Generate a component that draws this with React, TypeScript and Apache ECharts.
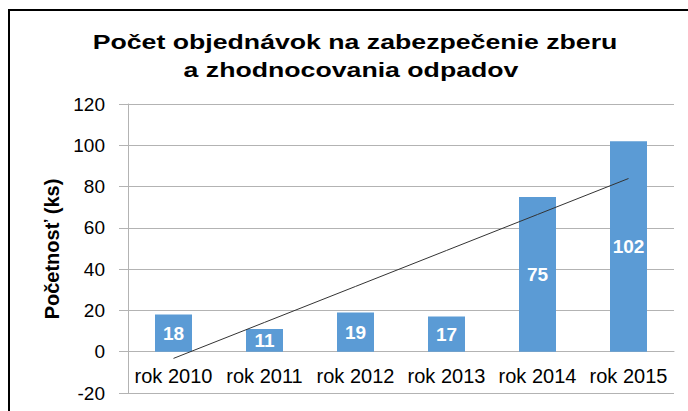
import React, { useEffect, useRef } from "react";
import * as echarts from "echarts";

const categories = ["rok 2010", "rok 2011", "rok 2012", "rok 2013", "rok 2014", "rok 2015"];
const values = [18, 11, 19, 17, 75, 102];
const titleLines = ["Počet objednávok na zabezpečenie zberu", "a zhodnocovania odpadov"];
const yAxisTitle = "Početnosť (ks)";
const yMin = -20;
const yMax = 120;
const yStep = 20;

function linearTrend(ys: number[]): number[] {
  const n = ys.length;
  const xs = ys.map((_, i) => i + 1);
  const mx = xs.reduce((a, b) => a + b, 0) / n;
  const my = ys.reduce((a, b) => a + b, 0) / n;
  let sxy = 0;
  let sxx = 0;
  for (let i = 0; i < n; i++) {
    sxy += (xs[i] - mx) * (ys[i] - my);
    sxx += (xs[i] - mx) * (xs[i] - mx);
  }
  const slope = sxy / sxx;
  return xs.map((x) => my + slope * (x - mx));
}

export default function App() {
  const ref = useRef<HTMLDivElement>(null);
  useEffect(() => {
    if (!ref.current) return;
    const chart = echarts.init(ref.current, undefined, { renderer: "svg" });
    const font = "'Liberation Sans', Arial, sans-serif";
    const gridTop = 104;
    const gridBottom = 18;
    const plotH = 411 - gridTop - gridBottom;
    const zeroOffset = (plotH * (0 - yMin)) / (yMax - yMin);
    chart.setOption({
      animation: false,
      backgroundColor: "#ffffff",
      textStyle: { fontFamily: font },
      grid: {
        left: 128,
        right: 14,
        top: gridTop,
        bottom: gridBottom,
        containLabel: false,
        outerBoundsMode: "none",
      },
      xAxis: {
        type: "category",
        data: categories,
        offset: -zeroOffset,
        axisLine: { show: true, onZero: false, lineStyle: { color: "#b3b3b3", width: 1 } },
        axisTick: { show: false },
        axisLabel: { color: "#000", fontSize: 20, fontFamily: font, margin: 14, interval: 0 },
        splitLine: { show: false },
      },
      yAxis: {
        type: "value",
        min: yMin,
        max: yMax,
        interval: yStep,
        axisLine: { show: true, lineStyle: { color: "#b3b3b3", width: 1 } },
        axisTick: { show: true, length: 9, lineStyle: { color: "#b3b3b3" } },
        axisLabel: { color: "#000", fontSize: 19, fontFamily: font, margin: 23 },
        splitLine: { show: true, lineStyle: { color: "#b3b3b3", width: 1 } },
      },
      graphic: [
        {
          type: "rect",
          shape: { x: 9, y: 10, width: 700, height: 420 },
          style: { fill: "none", stroke: "#000", lineWidth: 2 },
          silent: true,
        },
        {
          type: "text",
          x: 355,
          y: 42,
          scaleX: 1.27,
          style: {
            text: titleLines[0],
            font: `bold 21px ${font}`,
            fill: "#000",
            textAlign: "center",
            textVerticalAlign: "middle",
          },
        },
        {
          type: "text",
          x: 351,
          y: 70,
          scaleX: 1.27,
          style: {
            text: titleLines[1],
            font: `bold 21px ${font}`,
            fill: "#000",
            textAlign: "center",
            textVerticalAlign: "middle",
          },
        },
        {
          type: "text",
          x: 52,
          y: 249,
          rotation: Math.PI / 2,
          style: {
            text: yAxisTitle,
            font: `bold 20px ${font}`,
            fill: "#000",
            textAlign: "center",
            textVerticalAlign: "middle",
          },
        },
      ],
      series: [
        {
          type: "bar",
          data: values,
          barWidth: 37,
          itemStyle: { color: "#5b9bd5" },
          label: {
            show: true,
            position: "inside",
            color: "#fff",
            fontWeight: "bold",
            fontSize: 19,
            fontFamily: font,
          },
        },
        {
          type: "line",
          data: linearTrend(values),
          symbol: "none",
          lineStyle: { color: "#333", width: 1 },
          z: 5,
        },
      ],
    });
    return () => chart.dispose();
  }, []);
  return (
    <div
      ref={ref}
      style={{ position: "fixed", left: 0, top: 0, width: 688, height: 411 }}
    />
  );
}
